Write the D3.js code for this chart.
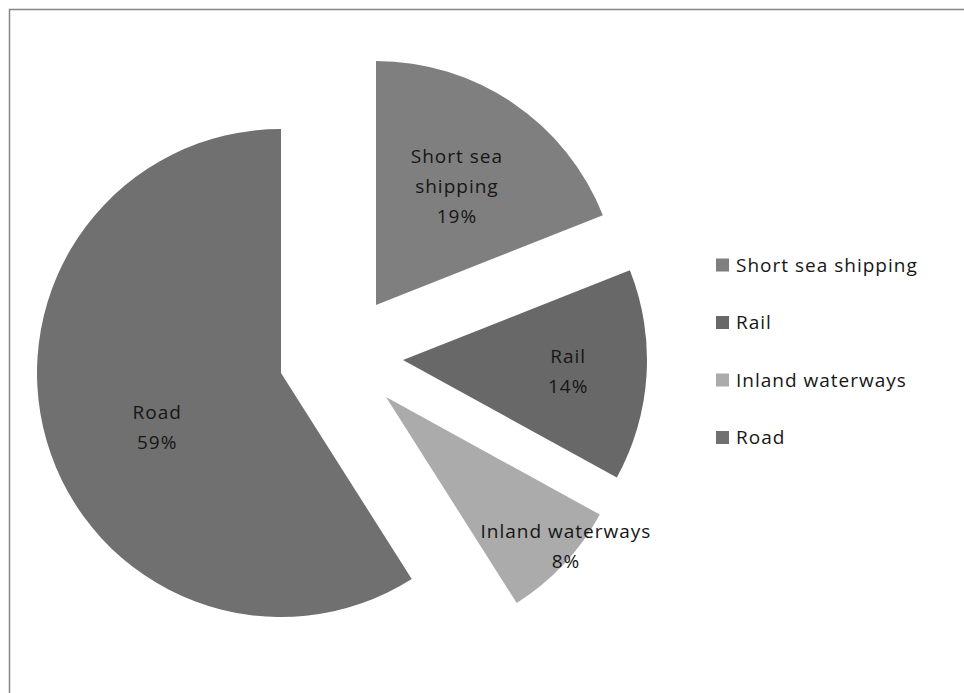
<!DOCTYPE html>
<html>
<head>
<meta charset="utf-8">
<script src="https://cdn.jsdelivr.net/npm/d3@7"></script>
<style>
  body { margin: 0; background: #fff; }
  svg text { font-family: "Open Sans", "DejaVu Sans", sans-serif; fill: #161616; letter-spacing: 1px; }
</style>
</head>
<body>
<div class="chart"></div>
<script>
// chart data
var categories = ["Short sea shipping", "Rail", "Inland waterways", "Road"];
var shares = [19, 14, 8, 59];

// slice styling
var sliceColors = ["#7f7f7f", "#686868", "#ababab", "#707070"];
// how far each slice is pulled out of the pie (px)
var explode = [[95, -68], [122, -13], [105, 24], [0, 0]];
// where the data label sits along the slice middle, as part of the radius
var labelRadius = [0.59, 0.67, 0.95, 0.55];
// small nudges so labels land where excel put them
var labelNudge = [[0, 0], [2, 1], [11, -9], [5, 17]];

var svgWidth = 964, svgHeight = 693;
var radius = 244;
var cx = 281, cy = 373;

var svg = d3.select(".chart")
  .append("svg")
  .attr("width", svgWidth)
  .attr("height", svgHeight);

// chart frame
svg.append("rect")
  .attr("x", 9.5)
  .attr("y", 9.5)
  .attr("width", svgWidth + 10)
  .attr("height", svgHeight + 10)
  .attr("fill", "none")
  .attr("stroke", "#868686")
  .attr("stroke-width", 1.5);

var data = categories.map(function (c, i) {
  return { name: c, value: shares[i], index: i };
});

var pie = d3.pie()
  .sort(null)
  .value(d => d.value);

var arc = d3.arc()
  .innerRadius(0)
  .outerRadius(radius);

var pieGroup = svg.append("g")
  .attr("transform", `translate(${cx}, ${cy})`);

var slices = pieGroup.selectAll("g.slice")
  .data(pie(data))
  .enter()
  .append("g")
  .attr("class", "slice")
  .attr("transform", d => `translate(${explode[d.data.index][0]}, ${explode[d.data.index][1]})`);

slices.append("path")
  .attr("d", arc)
  .attr("fill", d => sliceColors[d.data.index]);

// data labels: name + percent, short sea shipping wraps on two lines
slices.each(function (d) {
  var i = d.data.index;
  var mid = (d.startAngle + d.endAngle) / 2;
  var r = radius * labelRadius[i];
  var x = Math.sin(mid) * r + labelNudge[i][0];
  var y = -Math.cos(mid) * r + labelNudge[i][1];
  var lines = d.data.name == "Short sea shipping" ? ["Short sea", "shipping"] : [d.data.name];
  lines.push(d.data.value + "%");
  var lineH = 30;
  var top = y - (lines.length - 1) * lineH / 2;
  var t = d3.select(this).append("text")
    .attr("text-anchor", "middle")
    .style("font-size", "19px");
  lines.forEach(function (l, j) {
    t.append("tspan")
      .attr("x", x)
      .attr("y", top + j * lineH)
      .attr("dy", "0.35em")
      .text(l);
  });
});

// legend
var legend = svg.append("g")
  .attr("transform", "translate(716, 265)");

var rows = legend.selectAll("g")
  .data(data)
  .enter()
  .append("g")
  .attr("transform", (d, i) => `translate(0, ${i * 57.5})`);

rows.append("rect")
  .attr("x", 0)
  .attr("y", -6.5)
  .attr("width", 13)
  .attr("height", 13)
  .attr("fill", d => sliceColors[d.index]);

rows.append("text")
  .attr("x", 20)
  .attr("y", 0)
  .attr("dy", "0.35em")
  .style("font-size", "19px")
  .text(d => d.name);
</script>
</body>
</html>
